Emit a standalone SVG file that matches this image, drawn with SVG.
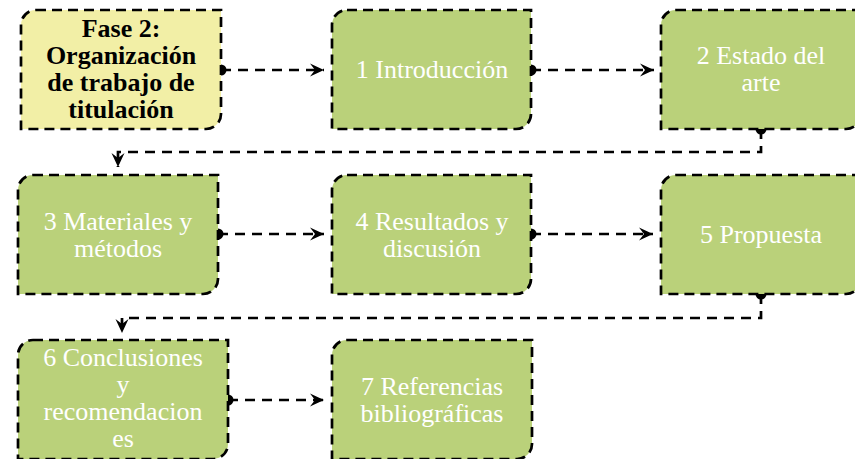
<svg xmlns="http://www.w3.org/2000/svg" width="855" height="459" viewBox="0 0 855 459">
<style>
  .box { stroke: #000; stroke-width: 2.7; stroke-dasharray: 10 6; }
  .green { fill: #BAD17A; }
  .yellow { fill: #F2EFA6; }
  .conn { fill: none; stroke: #000; stroke-width: 2.7; stroke-dasharray: 10 7; marker-start: url(#dot); marker-end: url(#arrow); }
  .t { font-family: "Liberation Serif", "Times New Roman", serif; font-size: 26px; text-anchor: middle; fill: #FFFFFF; }
  .tb { font-family: "Liberation Serif", "Times New Roman", serif; font-size: 26px; font-weight: bold; text-anchor: middle; fill: #000; }
</style>
<defs>
  <marker id="arrow" markerUnits="userSpaceOnUse" markerWidth="16" markerHeight="16" viewBox="-15 -8 16 16" refX="0" refY="0" orient="auto">
    <path d="M0,0 L-14,-6.5 L-9,0 L-14,6.5 Z" fill="#000"/>
  </marker>
  <marker id="dot" markerUnits="userSpaceOnUse" markerWidth="14" markerHeight="14" viewBox="-7 -7 14 14" refX="0" refY="0" orient="auto">
    <circle cx="0" cy="0" r="5.5" fill="#000"/>
  </marker>
</defs>
<rect width="855" height="459" fill="#FFFFFF"/>
<g id="connectors">
  <path class="conn" d="M221,70 H324"/>
  <path class="conn" d="M531,70 H654"/>
  <path class="conn" d="M761,129 V152 H118 V167"/>
  <path class="conn" d="M218,234 H324"/>
  <path class="conn" d="M531,234 H653"/>
  <path class="conn" d="M761,294 V318 H122 V333"/>
  <path class="conn" d="M228,400 H324"/>
</g>
<g id="fase2">
  <path class="box yellow" d="M36,10 H221 V114 A15,15 0 0 1 206,129 H21 V25 A15,15 0 0 1 36,10 Z"/>
  <text class="tb" x="121" y="37">Fase 2:</text>
  <text class="tb" x="121" y="64">Organización</text>
  <text class="tb" x="121" y="91">de trabajo de</text>
  <text class="tb" x="121" y="118">titulación</text>
</g>
<g id="n1">
  <path class="box green" d="M347,10 H531 V114 A15,15 0 0 1 516,129 H332 V25 A15,15 0 0 1 347,10 Z"/>
  <text class="t" x="432" y="78">1 Introducción</text>
</g>
<g id="n2">
  <path class="box green" d="M676,10 H861 V114 A15,15 0 0 1 846,129 H661 V25 A15,15 0 0 1 676,10 Z"/>
  <text class="t" x="761" y="64">2 Estado del</text>
  <text class="t" x="761" y="91">arte</text>
</g>
<g id="n3">
  <path class="box green" d="M33,175 H218 V279 A15,15 0 0 1 203,294 H18 V190 A15,15 0 0 1 33,175 Z"/>
  <text class="t" x="118" y="230">3 Materiales y</text>
  <text class="t" x="118" y="257">métodos</text>
</g>
<g id="n4">
  <path class="box green" d="M347,175 H531 V279 A15,15 0 0 1 516,294 H332 V190 A15,15 0 0 1 347,175 Z"/>
  <text class="t" x="432" y="230">4 Resultados y</text>
  <text class="t" x="432" y="257">discusión</text>
</g>
<g id="n5">
  <path class="box green" d="M676,175 H861 V279 A15,15 0 0 1 846,294 H661 V190 A15,15 0 0 1 676,175 Z"/>
  <text class="t" x="761" y="243">5 Propuesta</text>
</g>
<g id="n6">
  <path class="box green" d="M33,340 H228 V444 A15,15 0 0 1 213,459 H18 V355 A15,15 0 0 1 33,340 Z"/>
  <text class="t" x="123" y="366">6 Conclusiones</text>
  <text class="t" x="123" y="393">y</text>
  <text class="t" x="123" y="420">recomendacion</text>
  <text class="t" x="123" y="447">es</text>
</g>
<g id="n7">
  <path class="box green" d="M347,340 H532 V444 A15,15 0 0 1 517,459 H332 V355 A15,15 0 0 1 347,340 Z"/>
  <text class="t" x="432" y="395">7 Referencias</text>
  <text class="t" x="432" y="422">bibliográficas</text>
</g>
</svg>
